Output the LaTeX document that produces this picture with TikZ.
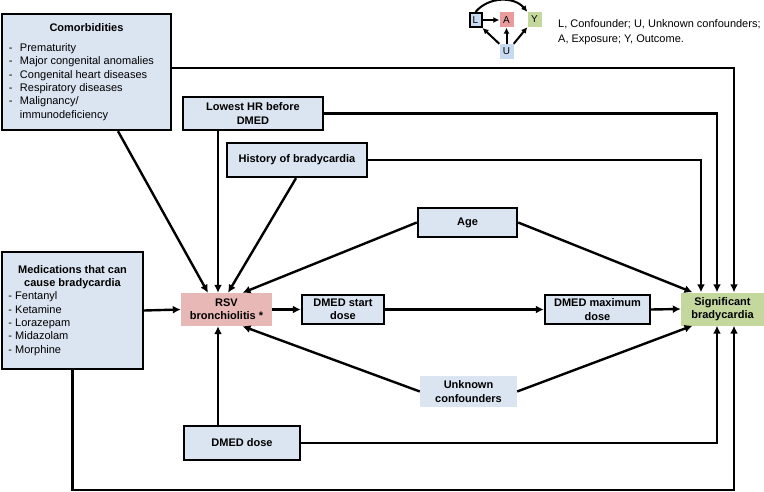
\documentclass[tikz,border=0pt]{standalone}
\usepackage{fontspec}
\setmainfont{Liberation Sans}
\usetikzlibrary{arrows.meta,positioning}

\definecolor{varblue}{RGB}{219,228,241}
\definecolor{rsvpink}{RGB}{232,184,183}
\definecolor{outgreen}{RGB}{196,215,157}
\definecolor{keyblue}{RGB}{200,218,242}
\definecolor{keypink}{RGB}{232,156,156}

\tikzset{
  var/.style={draw,line width=2.4pt,fill=varblue,align=center,inner sep=0pt,
    font=\bfseries\fontsize{11}{13.3}\selectfont},
  plain/.style={fill=#1,draw=none,align=center,inner sep=0pt,
    font=\bfseries\fontsize{11}{13.3}\selectfont},
  key/.style={fill=#1,inner sep=0pt,minimum width=14pt,minimum height=15pt,
    font=\fontsize{10}{11}\selectfont}
}

\begin{document}
\begin{tikzpicture}[x=1pt,y=-1pt]
  \useasboundingbox (0,0) rectangle (764,492);

  % variables
  \begin{scope}[every node/.style={var}]
    \node[minimum width=169pt,minimum height=116pt,font=\fontsize{11}{13.3}\selectfont]
      (com) at (86.5,72) {\begin{tabular}{@{}p{155pt}@{}}
        \multicolumn{1}{c}{\bfseries Comorbidities}\\[7pt]
        \makebox[11pt][l]{-}Prematurity\\
        \makebox[11pt][l]{-}Major congenital anomalies\\
        \makebox[11pt][l]{-}Congenital heart diseases\\
        \makebox[11pt][l]{-}Respiratory diseases\\
        \makebox[11pt][l]{-}Malignancy/\\
        \hspace*{11pt}immunodeficiency
      \end{tabular}};
    \node[minimum width=141pt,minimum height=117pt,font=\fontsize{11}{13.3}\selectfont]
      (med) at (72.5,310.5) {\begin{tabular}{@{}p{128pt}@{}}
        \multicolumn{1}{c}{\bfseries Medications that can}\\
        \multicolumn{1}{c}{\bfseries cause bradycardia}\\
        - Fentanyl\\
        - Ketamine\\
        - Lorazepam\\
        - Midazolam\\
        - Morphine
      \end{tabular}};
    \node[minimum width=140pt,minimum height=33pt] (hr)    at (253,113.5) {Lowest HR before\\DMED};
    \node[minimum width=140pt,minimum height=34pt] (hist)  at (297,160)   {History of bradycardia};
    \node[minimum width=99pt,minimum height=29pt]  (age)   at (467.5,222.5) {Age};
    \node[minimum width=82pt,minimum height=29pt]  (start) at (343,309.5) {DMED start\\dose};
    \node[minimum width=105pt,minimum height=29pt] (max)   at (597.5,309.5) {DMED maximum\\dose};
    \node[minimum width=116pt,minimum height=34pt] (dose)  at (242,443) {DMED dose};
  \end{scope}

  \node[plain=rsvpink,minimum width=91pt,minimum height=33pt]  (rsv) at (226.5,309.5) {RSV\\bronchiolitis *};
  \node[plain=outgreen,minimum width=83pt,minimum height=33pt] (sb)  at (722.5,309)   {Significant\\bradycardia};
  \node[plain=varblue,minimum width=97pt,minimum height=31pt]  (unk) at (468.5,391.5) {Unknown\\confounders};

  % connectors
  \begin{scope}[line width=2.4pt,-{Latex[length=8pt,width=8pt]}]
    \draw ([xshift=31.5pt]com.south) -- ([xshift=-18.5pt]rsv.north);
    \draw ([xshift=-35pt]hr.south) -- ([xshift=-8.5pt]rsv.north);
    \draw ([xshift=-1pt]hist.south) -- ([xshift=1.5pt]rsv.north);
    \draw (age.west) -- ([xshift=16pt]rsv.north);
    \draw (unk.west) -- ([xshift=16pt]rsv.south);
    \draw ([xshift=-24pt]dose.north) -- ([xshift=-8.5pt]rsv.south);
    \draw (med.east) -- (rsv.west);
    \draw (rsv.east) -- (start.west);
    \draw (start.east) -- (max.west);
    \draw (max.east) -- (sb.west);
    \draw (age.east) -- ([xshift=-30pt]sb.north);
    \draw (unk.east) -- ([xshift=-30pt]sb.south);
    \draw ([yshift=4pt]com.east) -| ([xshift=11.5pt]sb.north);
    \draw (hr.east) -| ([xshift=-5.5pt]sb.north);
    \draw (hist.east) -| ([xshift=-21.5pt]sb.north);
    \draw (dose.east) -| ([xshift=-5.5pt]sb.south);
    \draw (med.south) -- ++(0,120) -| ([xshift=11.5pt]sb.south);
  \end{scope}

  % key
  \node[key=keyblue,draw,line width=2pt,minimum width=12pt,minimum height=14pt] (kL) at (475.5,20) {L};
  \node[key=keypink] (kA) at (506.5,20)   {A};
  \node[key=outgreen] (kY) at (534.5,19.5) {Y};
  \node[key=keyblue] (kU) at (506.5,51.5) {U};
  \begin{scope}[line width=2pt,-{Latex[length=6pt,width=6pt]}]
    \draw (kL) -- (kA);
    \draw (kU) -- (kA);
    \draw (kU.north west) -- (kL.south east);
    \draw (kU.north east) -- (kY.south west);
    \draw (kL.north) to[bend left=50] (kY.north west);
  \end{scope}
  \node[anchor=north west,align=left,inner sep=0pt,font=\fontsize{11}{15}\selectfont]
    (keytext) at (558,19) {L, Confounder; U, Unknown confounders;\\A, Exposure; Y, Outcome.};
\end{tikzpicture}
\end{document}
